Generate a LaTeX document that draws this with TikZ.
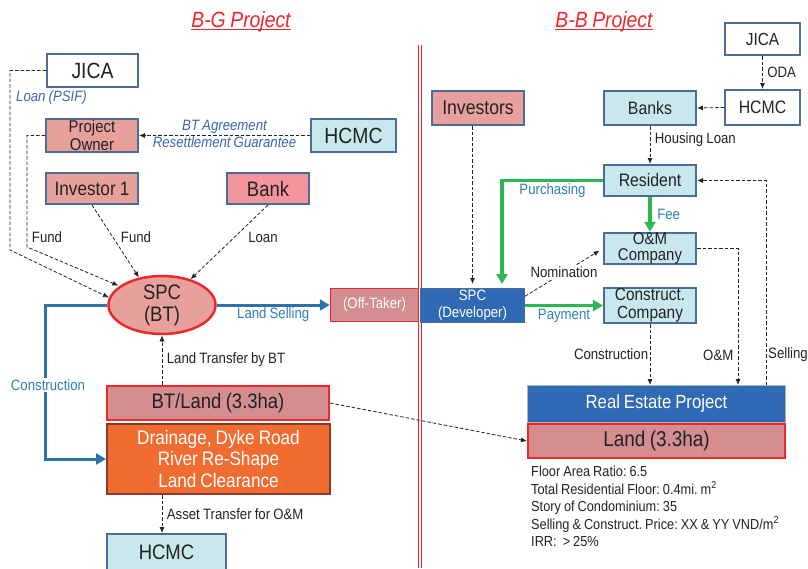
\documentclass[tikz,border=0pt]{standalone}
\usepackage{fontspec}
\setmainfont[FakeStretch=0.88,WordSpace=0.85]{Liberation Sans}
\usetikzlibrary{arrows.meta,shapes.geometric}
\definecolor{edgec}{RGB}{74,108,150}
\definecolor{salmon}{RGB}{232,160,156}
\definecolor{pinkc}{RGB}{244,148,156}
\definecolor{ltblue}{RGB}{200,232,238}
\definecolor{redc}{RGB}{236,40,44}
\definecolor{landc}{RGB}{212,142,144}
\definecolor{orangec}{RGB}{241,108,49}
\definecolor{brownc}{RGB}{139,58,42}
\definecolor{devblue}{RGB}{48,106,180}
\definecolor{lineblue}{RGB}{46,112,170}
\definecolor{lblblue}{RGB}{44,128,182}
\definecolor{itblue}{RGB}{58,100,176}
\definecolor{greenc}{RGB}{44,184,80}
\definecolor{txtc}{RGB}{35,35,35}
\newcommand\fsz[2]{\fontsize{#1}{#2}\selectfont}
\frenchspacing
\begin{document}
\begin{tikzpicture}[x=1pt,y=-1pt,
	box/.style={draw=edgec,line width=2pt,inner sep=0pt,align=center,text=txtc},
	flow/.style={draw=txtc,line width=0.8pt,dash pattern=on 3.5pt off 2pt,-{Latex[length=6pt,width=5pt]}},
	lbl/.style={font=\fsz{15}{15},text=txtc,inner sep=1.5pt},
	bluelbl/.style={font=\fsz{15}{15},text=lblblue,inner sep=1.5pt},
	itlbl/.style={font=\fsz{15}{17}\itshape,text=itblue,inner sep=1pt},
	blueflow/.style={draw=lineblue,line width=3pt,-{Triangle[length=10pt,width=11pt]}},
	greenflow/.style={draw=greenc,line width=3.5pt,-{Triangle[length=10pt,width=11pt]}},
	title/.style={font=\fsz{22}{22}\itshape,text=redc,inner sep=0pt}]
	\useasboundingbox (0,0) rectangle (808,568);
	\node[title] (bgtitle) at (241,22) {B-G Project};
	\node[title] (bbtitle) at (604,22) {B-B Project};
	\draw[redc,line width=1.5pt] ([yshift=-2pt]bgtitle.base west) -- ([yshift=-2pt]bgtitle.base east);
	\draw[redc,line width=1.5pt] ([yshift=-2pt]bbtitle.base west) -- ([yshift=-2pt]bbtitle.base east);
	\draw[redc,line width=0.8pt] (418,45) -- (418,568) (421.5,45) -- (421.5,568);
	% B-G side
	\node[box,fill=white,minimum width=91pt,minimum height=33pt,font=\fsz{22}{22}] (jicaL) at (92.5,70.5) {JICA};
	\node[box,fill=salmon,minimum width=92pt,minimum height=33pt,font=\fsz{17}{18}] (owner) at (92,135.5) {Project\\Owner};
	\node[box,fill=ltblue,minimum width=85pt,minimum height=33pt,font=\fsz{22}{22}] (hcmcL) at (353.5,135.5) {HCMC};
	\node[box,fill=salmon,minimum width=92pt,minimum height=31pt,font=\fsz{19.5}{20}] (inv1) at (92,188.5) {Investor 1};
	\node[box,fill=pinkc,minimum width=82pt,minimum height=31pt,font=\fsz{21}{21}] (bank) at (268,188.5) {Bank};
	\node[ellipse,draw=redc,fill=salmon,line width=2.5pt,inner sep=0pt,minimum width=107pt,minimum height=51pt,align=center,text=txtc,font=\fsz{21}{22}] (spcbt) at (162,305) {SPC\\(BT)};
	\node[draw=redc,fill=landc,line width=1.5pt,minimum width=88pt,minimum height=33pt,inner sep=0pt,text=white,font=\fsz{15}{15}] (offtk) at (374.5,305) {(Off-Taker)};
	\node[draw=redc,fill=landc,line width=2.2pt,minimum width=222pt,minimum height=34pt,inner sep=0pt,text=txtc,font=\fsz{21}{21}] (btland) at (218,403) {BT/Land (3.3ha)};
	\node[draw=brownc,fill=orangec,line width=2pt,minimum width=223pt,minimum height=70pt,inner sep=0pt,align=center,text=white,font=\fsz{19.5}{21.5}] (drain) at (218.5,459) {Drainage, Dyke Road\\River Re-Shape\\Land Clearance};
	\node[box,fill=ltblue,minimum width=119pt,minimum height=36pt,font=\fsz{21}{21}] (hcmcB) at (166.5,552) {HCMC};
	\coordinate (jbend) at (10,250);
	\coordinate (obend) at (27,247);
	\coordinate (cbend) at (45,459);
	\draw[flow] (jicaL.west) -| (jbend) -- (spcbt.172);
	\draw[flow,shorten >=1pt] (owner.west) -| (obend) -- (spcbt.156);
	\draw[flow] (hcmcL.west) -- (owner.east) node[itlbl,midway,above] (btagr) {BT Agreement} node[itlbl,midway,below] (resgu) {Resettlement Guarantee};
	\node[itlbl] (psif) at (51.5,98) {Loan (PSIF)};
	\draw[flow] (inv1.south) -- (spcbt.130);
	\draw[flow] (bank.south) -- (spcbt.42);
	\node[lbl] (funda) at (47,237) {Fund};
	\node[lbl] (fundb) at (136,237) {Fund};
	\node[lbl] (loana) at (263,237) {Loan};
	\draw[blueflow] (spcbt.east) -- (offtk.west) node[bluelbl,midway,below] (landsell) {Land Selling};
	\draw[blueflow] (spcbt.west) -| (cbend) -- (drain.west);
	\node[bluelbl,fill=white] (constr) at (48,385) {Construction};
	\draw[flow] (btland.north -| spcbt.south) -- (spcbt.south) node[lbl,midway,right=3pt] (ltbt) {Land Transfer by BT};
	\draw[flow] (drain.south -| spcbt.south) -- (hcmcB.north -| spcbt.south) node[lbl,midway,right=3pt] (atom) {Asset Transfer for O\&M};
	% B-B side
	\node[box,fill=salmon,minimum width=92pt,minimum height=34pt,font=\fsz{20}{20}] (invs) at (478,108) {Investors};
	\node[box,fill=white,minimum width=75pt,minimum height=32pt,font=\fsz{17.5}{17.5}] (jicaR) at (762.5,39) {JICA};
	\node[box,fill=white,minimum width=75pt,minimum height=35pt,font=\fsz{18}{18}] (hcmcR) at (762.5,107.5) {HCMC};
	\node[box,fill=ltblue,minimum width=92pt,minimum height=34pt,font=\fsz{18}{18}] (banks) at (650,108) {Banks};
	\node[box,fill=ltblue,minimum width=92pt,minimum height=31pt,font=\fsz{18}{18}] (res) at (650,180.5) {Resident};
	\node[box,fill=ltblue,minimum width=92pt,minimum height=31pt,font=\fsz{17}{16}] (om) at (650,248.5) {O\&M\\Company};
	\node[draw=edgec,fill=devblue,line width=1pt,minimum width=104pt,minimum height=34pt,inner sep=0pt,align=center,text=white,font=\fsz{15}{17}] (spcdev) at (472.5,305.5) {SPC\\(Developer)};
	\node[box,fill=ltblue,minimum width=92pt,minimum height=35pt,font=\fsz{17.5}{18}] (con) at (650,305.5) {Construct.\\Company};
	\node[draw=gray!60,fill=devblue,line width=1pt,minimum width=258pt,minimum height=37pt,inner sep=0pt,text=white,font=\fsz{19}{19}] (re) at (656.5,404) {Real Estate Project};
	\node[draw=redc,fill=landc,line width=2.2pt,minimum width=257pt,minimum height=34pt,inner sep=0pt,text=txtc,font=\fsz{21.5}{21.5}] (land) at (656.5,441) {Land (3.3ha)};
	\node[anchor=north west,align=left,inner sep=0pt,text=txtc,font=\fsz{14.5}{17.5}] (facts) at (531,466) {Floor Area Ratio: 6.5\\Total Residential Floor: 0.4mi. m\textsuperscript{2}\\Story of Condominium: 35\\Selling \& Construct. Price: XX \& YY VND/m\textsuperscript{2}\\IRR:\ \ > 25\%};
	\coordinate (pbend) at (502,180.5);
	\coordinate (omx) at (738,248.5);
	\coordinate (selx) at (766,180.5);
	\draw[flow] (btland.east) -- (land.west);
	\draw[flow,shorten >=4pt] (invs.south -| spcdev.north) -- (spcdev.north);
	\draw[flow] (jicaR.south) -- (hcmcR.north) node[lbl,midway,right=3pt] (oda) {ODA};
	\draw[flow] (hcmcR.west) -- (banks.east);
	\draw[flow] (banks.south) -- (res.north) node[lbl,pos=0.35,right=3pt] (hloan) {Housing Loan};
	\draw[greenflow,shorten >=4pt] (res.west) -- (pbend) node[bluelbl,midway,below] (purch) {Purchasing} -- (pbend |- spcdev.north);
	\draw[greenflow] (res.south) -- (om.north) node[bluelbl,midway,right=4pt] (fee) {Fee};
	\draw[flow,shorten >=4pt] (spcdev.10) -- (om.west) node[lbl,midway,fill=white] (nomin) {Nomination};
	\draw[greenflow] (spcdev.east) -- (con.west) node[bluelbl,midway,below] (pay) {Payment};
	\draw[flow] (con.south) -- (re.north -| con.south) node[lbl,midway,left] (cnstr) {Construction};
	\draw[flow] (om.east) -- (omx) -- (omx |- re.north);
	\draw[flow] (selx |- re.north) -- (selx) -- (res.east);
	\node[lbl,anchor=east] (omlbl) at (735,355) {O\&M};
	\node[lbl,anchor=west] (sellbl) at (766.5,355) {Selling};
\end{tikzpicture}
\end{document}
